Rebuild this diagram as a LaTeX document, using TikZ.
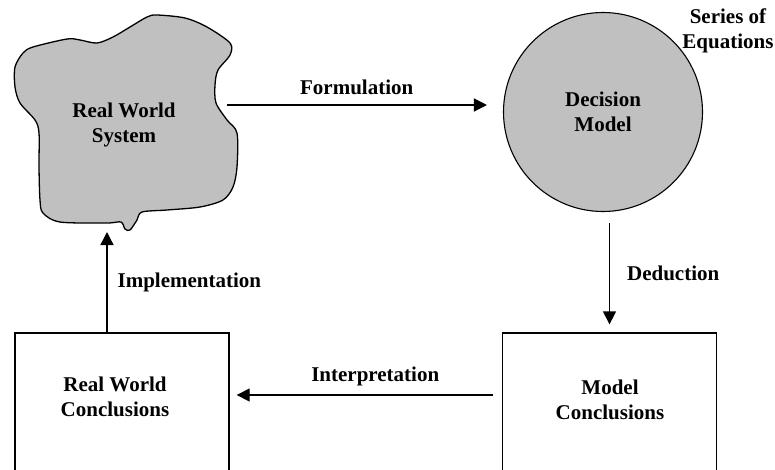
\documentclass[tikz,border=0pt]{standalone}
\usepackage{fontspec}
\setmainfont{Liberation Serif}
\usetikzlibrary{shapes,arrows.meta}
\definecolor{blobgray}{RGB}{192,192,192}

\begin{document}
\begin{tikzpicture}[
    x=1pt, y=-1pt,
    txt/.style={font=\fontsize{21}{25}\selectfont\bfseries, align=center, inner sep=0pt},
    box/.style={rectangle, draw=black, line width=1.3pt, minimum width=214pt, minimum height=170pt, inner sep=0pt},
    model/.style={circle, draw=black, line width=1.1pt, fill=blobgray, minimum size=199pt, inner sep=0pt, txt},
    arrow/.style={line width=1.3pt, -{Triangle[length=13pt,width=13pt]}}
]
\clip (0,0) rectangle (775,469);

% Real world system (blob)
\draw[line width=1.3pt, fill=blobgray] plot[smooth cycle, tension=0.5] coordinates {
    (157,15) (185,18) (207,27) (230,43) (230,55) (218,70) (215,85) (216,103)
    (227,120) (237,133) (237,167) (233,187) (223,200) (200,207) (167,210)
    (142,212) (137,220) (130,230) (125,229) (121,222) (107,223) (60,222)
    (43,213) (40,200) (39,167) (39,133) (35,120) (20,103) (15,87) (15,67)
    (23,53) (33,47) (67,39) (80,40) (97,43) (113,37) (130,27) (147,17)};
\node[txt] (sys) at (124,125) {Real World\\System};
\coordinate (sysR) at (227,105);
\coordinate (sysB) at (107,232);

% Decision model
\node[model] (dm) at (603,112) {Decision\\Model};
\node[txt] (eqs) at (728,31) {Series of\\Equations};

% Conclusions (boxes run off the bottom edge)
\node[box] (rwc) at (122,418) {};
\node[txt] (rwc_text) at (115,397) {Real World\\Conclusions};
\node[box] (mc) at (609.5,418) {};
\node[txt] (mc_text) at (610,400) {Model\\Conclusions};

% Arrows
\draw[arrow, shorten >=16pt] (sysR) -- node[txt, above=10pt, pos=0.47] {Formulation} (sysR -| dm.west);
\draw[arrow] ([yshift=-11pt]dm.south -| mc.north) -- node[txt, right=17pt] {Deduction} ([yshift=8pt]mc.north);
\draw[arrow] ([xshift=-8.5pt, yshift=5pt]mc.west |- mc_text) -- node[txt, above=8pt, pos=0.46] {Interpretation} ([xshift=7pt, yshift=5pt]rwc.east |- mc_text);
\draw[arrow] (rwc.north -| sysB) -- node[txt, right=10pt] {Implementation} (sysB);

\end{tikzpicture}
\end{document}
